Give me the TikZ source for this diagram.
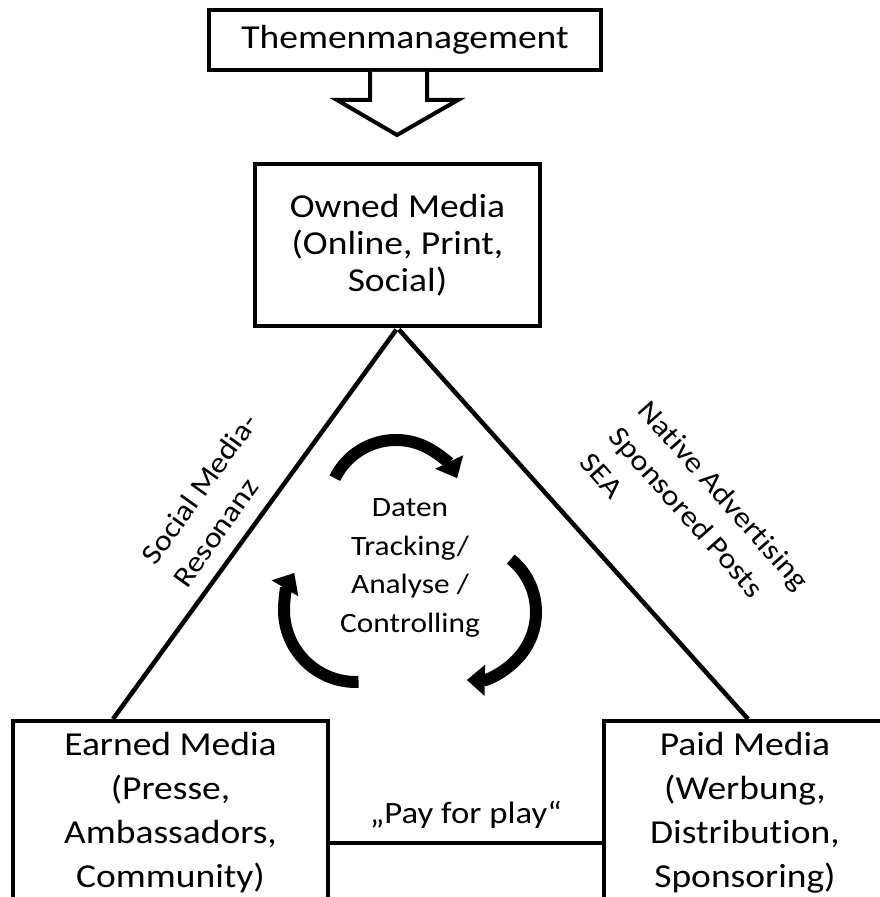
\documentclass[tikz,border=0pt]{standalone}
\usepackage{fontspec}
\setmainfont{Carlito}[FakeStretch=1.12, Ligatures={TeX,NoCommon}, Contextuals=NoAlternate]
\usetikzlibrary{arrows.meta, positioning, calc}

\begin{document}
\begin{tikzpicture}[
    x=1pt, y=1pt,
    box/.style={rectangle, draw, line width=4pt, fill=white, inner sep=0pt, align=center},
    topicbox/.style={box, minimum width=392pt, minimum height=60pt, font=\fontsize{33.5}{44}\selectfont},
    ownedbox/.style={box, minimum width=285pt, minimum height=162pt, font=\fontsize{33.5}{37}\selectfont},
    mediabox/.style={box, minimum height=184pt, font=\fontsize{33.5}{44}\selectfont},
    edge/.style={line width=4.5pt},
    edgelabel/.style={font=\fontsize{29}{39}\selectfont, align=left, inner sep=0pt},
    cyclearrow/.style={line width=12pt, -{Triangle[width=30pt, length=18pt]}}
]
% Frame (bottom boxes run off the page)
\useasboundingbox (0,0) rectangle (880,897);
\clip (0,0) rectangle (880,897);

% Boxes
\node[topicbox] (themen) at (405,857) {Themenmanagement};
\node[ownedbox] (owned) at (397.5,652) {Owned Media\\(Online, Print,\\Social)};
\node[mediabox, minimum width=315pt] (earned) at (170.5,84) {Earned Media\\(Presse,\\Ambassadors,\\Community)};
\node[mediabox, minimum width=282pt] (paid) at (745,84) {Paid Media\\(Werbung,\\Distribution,\\Sponsoring)};

% Hollow arrow below Themenmanagement
\draw[line width=4pt, fill=white] ($(themen.south)+(-35,0)$) -- ++(0,-28) -- ++(-33,0)
    -- ($(themen.south)+(-8,-63)$) -- ($(themen.south)+(53,-28)$) -- ++(-31,0) -- ++(0,28);

% Triangle
\draw[edge, shorten <=2pt] (owned.south) -- ([xshift=-57.5pt]earned.north);
\draw[edge, shorten <=2pt] (owned.south) -- ([xshift=3pt]paid.north);
\draw[edge] ([yshift=-30pt]earned.east) -- node[above=9pt, font=\fontsize{31}{37}\selectfont] (payplay) {„Pay for play“} ([yshift=-30pt]paid.west);

% Side labels
\node[edgelabel, rotate=54.4] (social) at (215,397) {Social Media-\\Resonanz};
\node[edgelabel, rotate=-48.5] (native) at (695,376) {Native Advertising\\Sponsored Posts\\SEA};

% Cycle in the middle
\node[font=\fontsize{28}{38.5}\selectfont, align=center] (daten) at (410,329) {Daten\\Tracking/\\Analyse /\\Controlling};
\draw[cyclearrow] (396,389) ++(154:68) arc[start angle=154, end angle=26, radius=68];
\draw[cyclearrow] (468,285) ++(51:68) arc[start angle=51, end angle=-91, radius=68];
\draw[cyclearrow] (356,287) ++(272:72) arc[start angle=272, end angle=149, radius=72];

\end{tikzpicture}
\end{document}
